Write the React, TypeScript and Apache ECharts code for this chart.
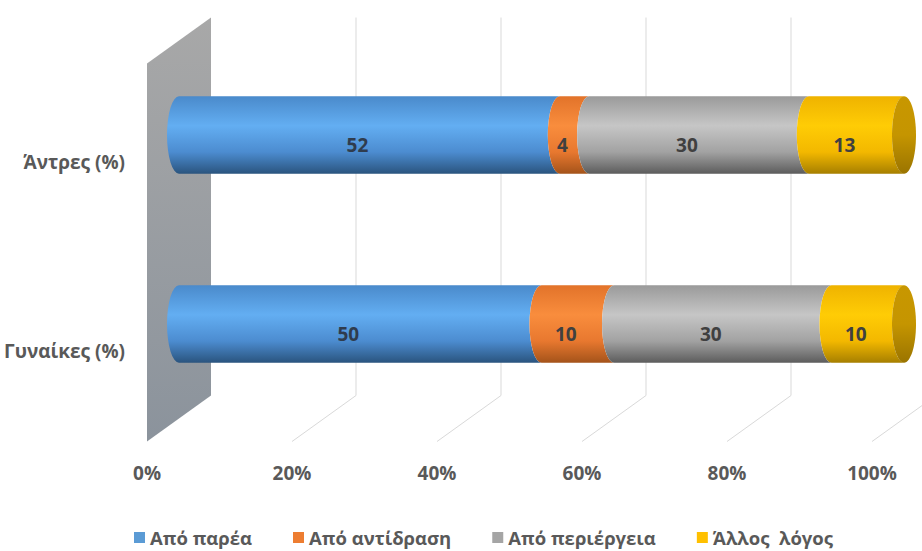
import React, { useEffect, useRef } from "react";
import * as echarts from "echarts";

const categories = ["Άντρες (%)", "Γυναίκες (%)"];
const seriesNames = ["Από παρέα", "Από αντίδραση", "Από περιέργεια", "Άλλος  λόγος"];
const apoParea = [52, 50];
const apoAntidrasi = [4, 10];
const apoPeriergeia = [30, 30];
const allosLogos = [13, 10];
const tickValues = [0, 20, 40, 60, 80, 100];

const seriesValues = [apoParea, apoAntidrasi, apoPeriergeia, allosLogos];

const baseColors = ["#5b9bd5", "#ed7d31", "#a5a5a5", "#ffc000"];
const gradStops = [
  ["#4a8acb", "#63aef2", "#4c8cd0", "#2a547e"],
  ["#e2732a", "#f98d3d", "#e8782f", "#a4531a"],
  ["#9a9a9a", "#c6c6c6", "#a2a2a2", "#5c5c5c"],
  ["#efb300", "#ffcc05", "#f3b800", "#a67f00"],
];

const DX = 32; // half depth offset (px)
const DY = 23;
const RX = 12; // ellipse half-width of cylinder caps

function makeGradient(cols: string[]) {
  return new echarts.graphic.LinearGradient(0, 0, 0, 1, [
    { offset: 0, color: cols[0] },
    { offset: 0.38, color: cols[1] },
    { offset: 0.72, color: cols[2] },
    { offset: 1, color: cols[3] },
  ]);
}

export default function App() {
  const ref = useRef<HTMLDivElement>(null);
  useEffect(() => {
    if (!ref.current) return;
    const chart = echarts.init(ref.current, undefined, { renderer: "svg" });

    const totals = categories.map((_, c) =>
      seriesValues.reduce((a, arr) => a + arr[c], 0)
    );

    const barSeries = seriesValues.map((vals, s) => {
      const data = vals.map((v, c) => {
        let before = 0;
        for (let k = 0; k < s; k++) before += seriesValues[k][c];
        const start = (before / totals[c]) * 100;
        const end = ((before + v) / totals[c]) * 100;
        return [start, end, c, v];
      });
      const isLast = s === seriesValues.length - 1;
      return {
        type: "custom",
        name: seriesNames[s],
        coordinateSystem: "cartesian2d",
        itemStyle: { color: baseColors[s] },
        encode: { x: [0, 1], y: 2 },
        z: 5,
        clip: false,
        data,
        renderItem: (params: any, api: any) => {
          const st = api.value(0);
          const en = api.value(1);
          const c = api.value(2);
          const raw = api.value(3);
          const p0 = api.coord([st, c]);
          const p1 = api.coord([en, c]);
          const band = api.size([0, 1])[1];
          const hh = band * 0.205;
          const cy = p0[1];
          const top = cy - hh;
          const bot = cy + hh;
          const x0 = p0[0];
          const x1 = p1[0];
          const d = `M${x0},${top} A${RX},${hh} 0 0 0 ${x0},${bot} L${x1},${bot} A${RX},${hh} 0 0 1 ${x1},${top} Z`;
          const children: any[] = [
            {
              type: "path",
              shape: { pathData: d },
              style: { fill: makeGradient(gradStops[s]) },
            },
          ];
          if (isLast) {
            children.push({
              type: "ellipse",
              shape: { cx: x1, cy, rx: RX, ry: hh },
              style: {
                fill: new echarts.graphic.LinearGradient(0, 0, 0, 1, [
                  { offset: 0, color: "#c89700" },
                  { offset: 0.5, color: "#c59500" },
                  { offset: 1, color: "#9a7400" },
                ]),
              },
            });
          }
          children.push({
            type: "text",
            z2: 10,
            style: {
              text: String(raw),
              x: (x0 + x1) / 2 - RX,
              y: cy + 10,
              align: "center",
              verticalAlign: "middle",
              fontFamily: "Open Sans",
              fontWeight: "bold",
              fontSize: 19,
              fill: s === 0 ? "#2f3c4e" : "#404040",
            },
          });
          return { type: "group", children };
        },
      };
    });

    const frameSeries = {
      type: "custom",
      name: "frame",
      coordinateSystem: "cartesian2d",
      z: 1,
      silent: true,
      clip: false,
      encode: { x: 0, y: 1 },
      data: tickValues.map((v) => [v, 0]),
      renderItem: (params: any, api: any) => {
        const v = api.value(0);
        const cs = params.coordSys;
        const x = api.coord([v, 0])[0];
        const bx = x + DX;
        const fx = x - DX;
        const topB = cs.y - DY;
        const botB = cs.y + cs.height - DY;
        const topF = cs.y + DY;
        const botF = cs.y + cs.height + DY;
        if (v === 0) {
          return {
            type: "polygon",
            shape: {
              points: [
                [bx, topB],
                [bx, botB],
                [fx, botF],
                [fx, topF],
              ],
            },
            style: {
              fill: new echarts.graphic.LinearGradient(0, 0, 0, 1, [
                { offset: 0, color: "#a8a8a8" },
                { offset: 1, color: "#8b939c" },
              ]),
            },
          };
        }
        return {
          type: "polyline",
          shape: {
            points: [
              [bx, topB],
              [bx, botB],
              [fx, botF],
            ],
          },
          style: { stroke: "#d9d9d9", lineWidth: 1, fill: "none" },
        };
      },
    };

    chart.setOption({
      animation: false,
      grid: {
        left: 179,
        right: 18,
        top: 40.5,
        bottom: 132.5,
        containLabel: false,
        outerBoundsMode: "none",
      },
      legend: {
        data: seriesNames,
        left: 129,
        top: 523,
        icon: "rect",
        itemWidth: 11,
        itemHeight: 11,
        itemGap: 41,
        textStyle: {
          fontFamily: "Open Sans",
          fontSize: 18.5,
          fontWeight: "bold",
          color: "#595959",
        },
      },
      xAxis: {
        type: "value",
        min: 0,
        max: 100,
        interval: 20,
        splitLine: { show: false },
        axisLine: { show: false },
        axisTick: { show: false },
        axisLabel: {
          formatter: "{value}%",
          margin: 44,
          lineHeight: 20,
          padding: [0, 2 * DX, 0, 0],
          fontFamily: "Open Sans",
          fontWeight: "bold",
          fontSize: 19,
          color: "#595959",
        },
      },
      yAxis: {
        type: "category",
        inverse: true,
        data: categories,
        axisLine: { show: false },
        axisTick: { show: false },
        splitLine: { show: false },
        axisLabel: {
          margin: 54,
          formatter: "\n{value}",
          lineHeight: 54,
          fontFamily: "Open Sans",
          fontWeight: "bold",
          fontSize: 19,
          color: "#595959",
        },
      },
      series: [frameSeries, ...barSeries],
    });

    return () => chart.dispose();
  }, []);

  return (
    <div
      ref={ref}
      style={{ position: "fixed", left: 0, top: 0, width: 922, height: 551, background: "#fff" }}
    />
  );
}
